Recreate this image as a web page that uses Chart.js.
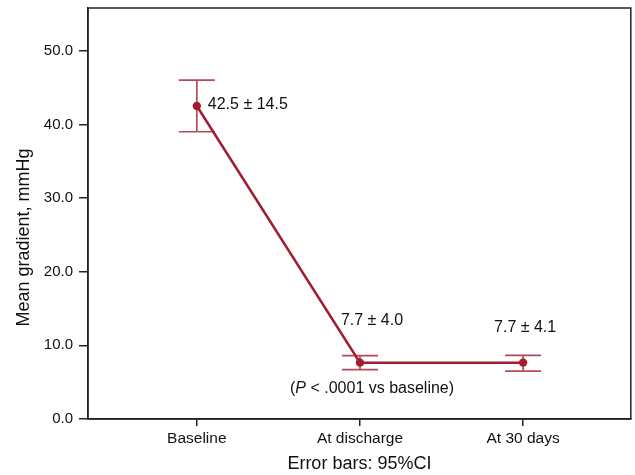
<!DOCTYPE html>
<html>
<head>
<meta charset="utf-8">
<script src="https://cdn.jsdelivr.net/npm/chart.js@4.4.1/dist/chart.umd.min.js"></script>
<style>
  html, body { margin: 0; padding: 0; background: #fff; }
  #wrap { width: 635px; height: 475px; }
</style>
</head>
<body>
<div id="wrap"><canvas id="grafico"></canvas></div>
<script>
const momentos = ['Baseline', 'At discharge', 'At 30 days'];
const medias = [42.5, 7.65, 7.65];
const icInferior = [39.0, 6.7, 6.5];
const icSuperior = [46.0, 8.6, 8.65];
const rotulos = ['42.5 \u00b1 14.5', '7.7 \u00b1 4.0', '7.7 \u00b1 4.1'];
const yTicks = [0, 10, 20, 30, 40, 50];

const vermelho = '#a11d2f';
const fonte = '"Liberation Sans", Arial, sans-serif';

// barras de erro, caixa e textos
const pluginExtras = {
  id: 'extras',
  afterDatasetsDraw(chart) {
    const ctx = chart.ctx;
    const x = chart.scales.x, y = chart.scales.y;
    const area = chart.chartArea;
    ctx.save();
    ctx.strokeStyle = 'rgba(161,29,47,0.8)';
    ctx.lineWidth = 1.7;
    momentos.forEach((m, i) => {
      const px = x.getPixelForValue(i);
      const top = y.getPixelForValue(icSuperior[i]);
      const bot = y.getPixelForValue(icInferior[i]);
      ctx.beginPath();
      ctx.moveTo(px, top); ctx.lineTo(px, bot);
      ctx.moveTo(px - 18, top); ctx.lineTo(px + 18, top);
      ctx.moveTo(px - 18, bot); ctx.lineTo(px + 18, bot);
      ctx.stroke();
    });
    // caixa
    ctx.strokeStyle = '#222';
    ctx.lineWidth = 1.5;
    ctx.strokeRect(area.left, area.top, area.right - area.left, area.bottom - area.top);
    // rotulos
    ctx.fillStyle = '#111';
    ctx.font = '16px ' + fonte;
    ctx.textBaseline = 'middle';
    ctx.textAlign = 'left';
    ctx.fillText(rotulos[0], x.getPixelForValue(0) + 11, y.getPixelForValue(medias[0]) - 1);
    ctx.textAlign = 'center';
    ctx.fillText(rotulos[1], x.getPixelForValue(1) + 12, y.getPixelForValue(13.4));
    ctx.fillText(rotulos[2], x.getPixelForValue(2) + 2, y.getPixelForValue(12.4));
    // P valor
    const py = y.getPixelForValue(4.1);
    const partes = [['(', 'normal'], ['P', 'italic'], [' < .0001 vs baseline)', 'normal']];
    ctx.textAlign = 'left';
    let cx = 290;
    partes.forEach(p => {
      ctx.font = p[1] + ' 16px ' + fonte;
      ctx.fillText(p[0], cx, py);
      cx += ctx.measureText(p[0]).width;
    });
    // titulo do eixo y, centrado na altura da figura
    ctx.translate(24, chart.height / 2);
    ctx.rotate(-Math.PI / 2);
    ctx.font = '18px ' + fonte;
    ctx.textAlign = 'center';
    ctx.fillText('Mean gradient, mmHg', 0, 0);
    ctx.restore();
  }
};

new Chart(document.getElementById('grafico'), {
  type: 'line',
  data: {
    datasets: [{
      label: 'Mean gradient',
      data: medias.map((v, i) => ({ x: i, y: v })),
      borderColor: vermelho,
      backgroundColor: vermelho,
      borderWidth: 2.5,
      pointRadius: 4.2,
      pointBackgroundColor: vermelho,
      pointBorderWidth: 0,
      tension: 0
    }]
  },
  options: {
    responsive: true,
    maintainAspectRatio: false,
    animation: false,
    layout: { padding: { top: 8, right: 3, left: 0, bottom: 0 } },
    plugins: { legend: { display: false }, tooltip: { enabled: false } },
    scales: {
      x: {
        type: 'linear',
        min: -0.667,
        max: 2.66,
        afterBuildTicks: s => { s.ticks = momentos.map((m, i) => ({ value: i })); },
        afterFit: s => { s.height = 56; s.paddingLeft = 0; s.paddingRight = 0; },
        grid: { drawOnChartArea: false, tickLength: 7, color: '#222', lineWidth: 1.5 },
        border: { color: '#222', width: 1.5 },
        ticks: {
          color: '#111',
          font: { family: fonte, size: 15.5 },
          padding: 3,
          maxRotation: 0,
          callback: v => momentos[v]
        },
        title: {
          display: true,
          text: 'Error bars: 95%CI',
          color: '#111',
          font: { family: fonte, size: 18 },
          padding: { top: 0, bottom: 0 }
        }
      },
      y: {
        min: 0,
        max: 55.8,
        afterBuildTicks: s => { s.ticks = yTicks.map(v => ({ value: v })); },
        afterFit: s => { s.width = 88; s.paddingTop = 0; s.paddingBottom = 0; },
        grid: { drawOnChartArea: false, tickLength: 9, color: '#222', lineWidth: 1.5 },
        border: { color: '#222', width: 1.5 },
        ticks: {
          color: '#111',
          font: { family: fonte, size: 15 },
          padding: 6,
          callback: v => v.toFixed(1)
        },
        title: { display: false }
      }
    }
  },
  plugins: [pluginExtras]
});
</script>
</body>
</html>
